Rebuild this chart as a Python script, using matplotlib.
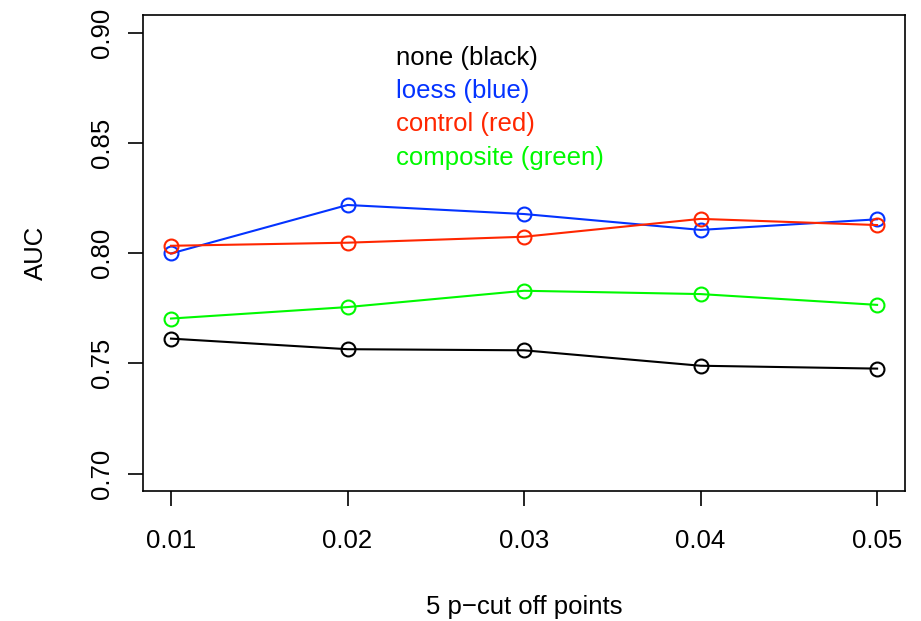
import matplotlib
matplotlib.use("Agg")
import matplotlib.pyplot as plt

plt.rcParams['font.family'] = ['Liberation Sans', 'DejaVu Sans']

# p-cut off points and AUC for each normalisation
cutoffs = [0.01, 0.02, 0.03, 0.04, 0.05]
auc_none = [0.7612, 0.7564, 0.7559, 0.7489, 0.7476]
auc_loess = [0.7998, 0.8218, 0.8177, 0.8105, 0.8153]
auc_control = [0.8033, 0.8047, 0.8074, 0.8155, 0.8127]
auc_composite = [0.7703, 0.7755, 0.7829, 0.7814, 0.7765]

names = ['none (black)', 'loess (blue)', 'control (red)', 'composite (green)']
colors = ['black', '#0433ff', '#ff2600', '#00f900']
series = [auc_none, auc_loess, auc_control, auc_composite]

fig = plt.figure(figsize=(9.21, 6.21), dpi=100)
ax = fig.add_axes([0.155, 0.209, 0.828, 0.767])

for vals, c in zip(series, colors):
    ax.plot(cutoffs, vals, color=c, lw=1.5, marker='o', ms=10,
            mfc='none', mec=c, mew=1.5)

ax.set_xlim(0.0084, 0.0516)
ax.set_ylim(0.692, 0.908)
ax.set_xticks(cutoffs)
ax.set_xticklabels(['0.01', '0.02', '0.03', '0.04', '0.05'])
ax.set_yticks([0.70, 0.75, 0.80, 0.85, 0.90])
ax.set_yticklabels(['0.70', '0.75', '0.80', '0.85', '0.90'], rotation=90, va='center')
ax.tick_params(direction='out', length=11, width=1.2, labelsize=18.5)
ax.tick_params(axis='x', pad=16.5)
ax.tick_params(axis='y', pad=10)
for s in ax.spines.values():
    s.set_linewidth(1.2)

ax.set_xlabel('5 p\u2212cut off points', fontsize=18.5, labelpad=30)
ax.set_ylabel('AUC', fontsize=18.5, labelpad=30)

# legend drawn as coloured text lines
for i, (n, c) in enumerate(zip(names, colors)):
    ax.text(0.02275, 0.8886 - i * 0.01515, n, color=c, fontsize=18.5, va='center')

fig.savefig('out.png', dpi=100)
